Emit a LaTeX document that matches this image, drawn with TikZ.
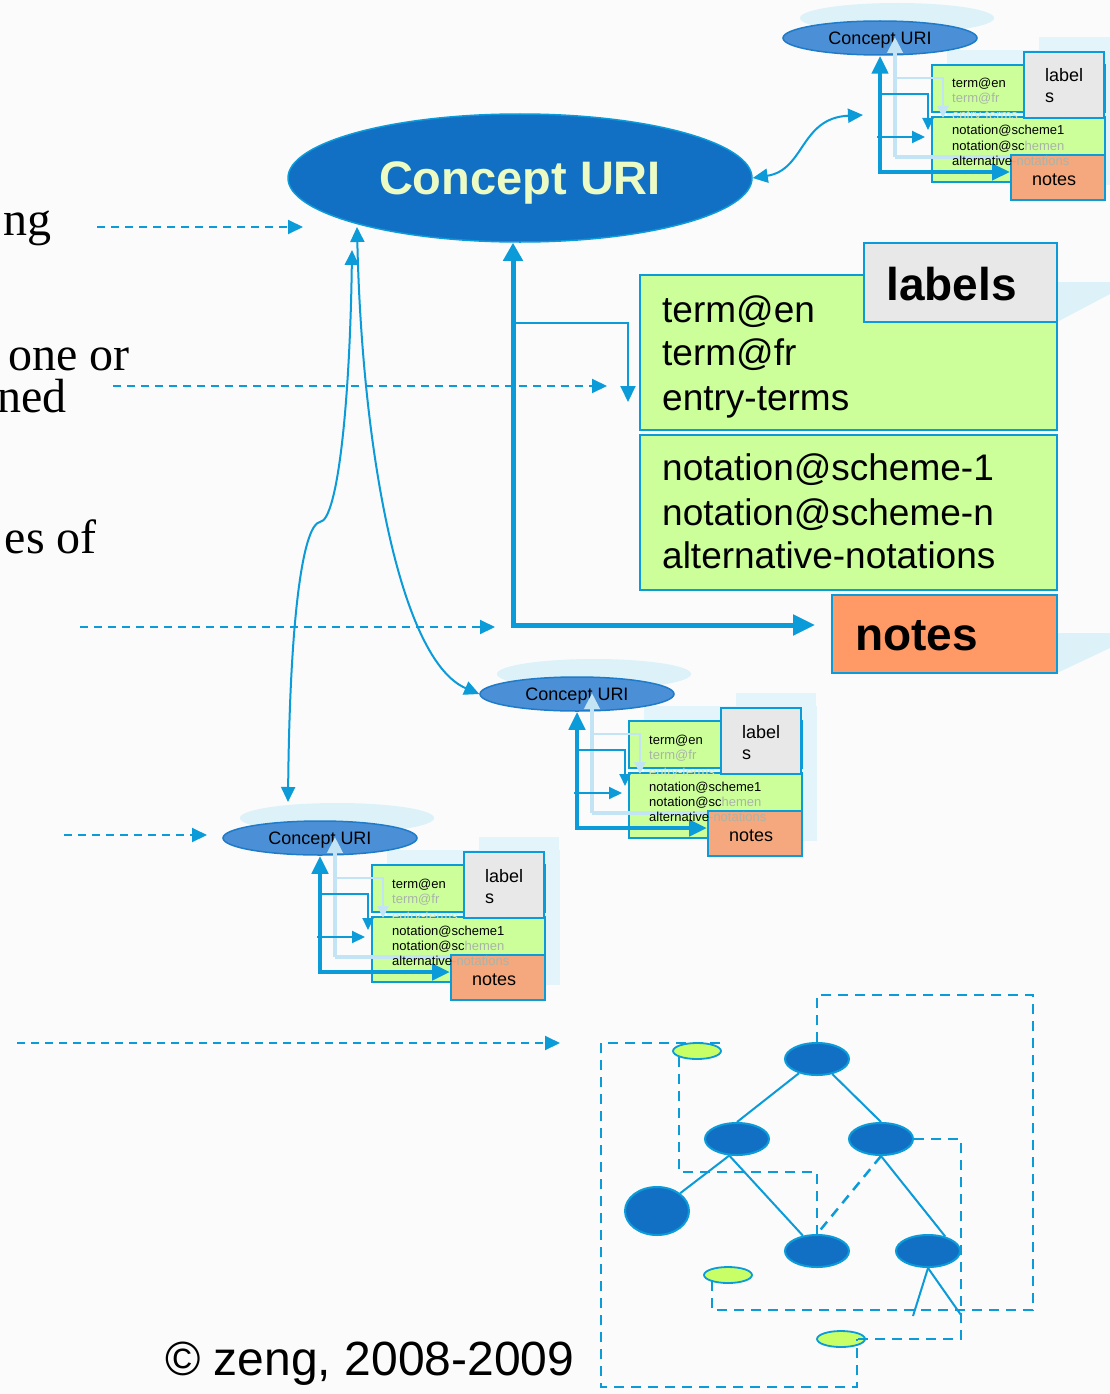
\documentclass[tikz,border=0pt]{standalone}
\usepackage{fontspec}
\setmainfont{Liberation Sans}
\newfontfamily\leftserif{Liberation Serif}
\usetikzlibrary{shapes.geometric,arrows.meta}

\definecolor{linecol}{HTML}{0A9BD8}
\definecolor{bigblue}{HTML}{1170C4}
\definecolor{smallblue}{HTML}{4B90D7}
\definecolor{smallrim}{HTML}{1E7BC9}
\definecolor{boxgreen}{HTML}{CCFF99}
\definecolor{labgray}{HTML}{E8E8E8}
\definecolor{notebig}{HTML}{FF9966}
\definecolor{notesmall}{HTML}{F5A77E}
\definecolor{halo}{HTML}{DDF2F8}
\definecolor{ghostfill}{HTML}{E3F4FA}
\definecolor{ghostline}{HTML}{C2E4F4}
\definecolor{treelime}{HTML}{C8FF66}
\definecolor{bigtext}{HTML}{ECFAC4}
\definecolor{fadeA}{HTML}{A9B4A9}
\definecolor{fadeB}{HTML}{D3EBB6}
\definecolor{paper}{HTML}{FBFBFB}

\tikzset{
  conn/.style={draw=linecol, line width=2pt},
  thickconn/.style={draw=linecol, line width=5pt},
  sthick/.style={draw=linecol, line width=4.5pt},
  dasharrow/.style={draw=linecol, line width=2pt, dash pattern=on 8pt off 6pt,
    -{Triangle[length=15pt,width=14pt]}},
  ghostthick/.style={draw=ghostline, line width=4.5pt},
  ghostthin/.style={draw=ghostline, line width=2pt},
  bigell/.style={ellipse, fill=bigblue, draw=linecol, line width=1.5pt,
    minimum width=464pt, minimum height=128pt, inner sep=0pt, text depth=0pt,
    text=bigtext, font=\fontsize{47}{56}\selectfont\bfseries},
  smallell/.style={ellipse, fill=smallblue, draw=smallrim, line width=1.5pt,
    minimum width=194pt, minimum height=34pt, inner sep=0pt, text depth=0pt,
    font=\fontsize{18}{21}\selectfont},
  haloell/.style={ellipse, fill=halo, minimum width=194pt, minimum height=30pt, inner sep=0pt},
  greenbox/.style={rectangle, fill=boxgreen, draw=linecol, line width=2pt,
    anchor=north west, inner sep=0pt, outer sep=0pt},
  labbox/.style={rectangle, fill=labgray, draw=linecol, line width=2pt,
    anchor=north west, inner sep=0pt, outer sep=0pt},
  bignote/.style={rectangle, fill=notebig, draw=linecol, line width=2pt,
    anchor=north west, inner sep=0pt, outer sep=0pt},
  smallnote/.style={rectangle, fill=notesmall, draw=linecol, line width=2pt,
    anchor=north west, inner sep=0pt, outer sep=0pt},
  txtS/.style={anchor=base west, inner sep=0pt, font=\fontsize{13}{15}\selectfont},
  txtM/.style={anchor=base west, inner sep=0pt, font=\fontsize{18}{21}\selectfont},
  txtB/.style={anchor=base west, inner sep=0pt, font=\fontsize{37}{44}\selectfont},
  txtH/.style={anchor=base west, inner sep=0pt, font=\fontsize{46}{54}\selectfont\bfseries},
  sidetxt/.style={anchor=base east, inner sep=0pt, font=\leftserif\fontsize{48}{56}\selectfont},
  treenode/.style={ellipse, fill=bigblue, draw=linecol, line width=2pt,
    minimum width=64pt, minimum height=32pt, inner sep=0pt},
  limenode/.style={ellipse, fill=treelime, draw=linecol, line width=1.8pt,
    minimum width=48pt, minimum height=16pt, inner sep=0pt},
  treeedge/.style={draw=linecol, line width=2pt},
  treedash/.style={draw=linecol, line width=2.5pt, dash pattern=on 10pt off 7pt},
}

% one small concept record: ellipse, label boxes, notes box and their links
\newcommand\smallconcept[3]{%
  \begin{scope}[shift={(#1,#2)}]
    \node[haloell] (#3h) at (17,-20) {};
    \fill[ghostfill] (67,12) rectangle (240,129);
    \fill[ghostfill] (159,-1) rectangle (239,65);
    \fill[ghostfill] (146,102) rectangle (240,147);
    \node[smallell] (#3e) at (0,0) {Concept URI};
    \node[greenbox, minimum width=173pt, minimum height=47pt] (#3ga) at (52,27) {};
    \node[greenbox, minimum width=173pt, minimum height=65pt] (#3gb) at (52,79) {};
    \node[txtS] (#3ta) at (72,50) {term@en};
    \node[txtS, text=fadeA] (#3tb) at (72,65) {term@fr};
    \node[txtS, text=fadeB] (#3tc) at (72,82) {entry-terms};
    \node[txtS] (#3td) at (72,97) {notation@scheme1};
    \node[txtS] (#3te) at (72,112) {notation@sc\textcolor{fadeA}{hemen}};
    % pale shadow copy of the links
    \coordinate (#3q1) at (15,119);
    \coordinate (#3q2) at (15,-1);
    \coordinate (#3q3) at (131,119);
    \coordinate (#3q4) at (15,40);
    \coordinate (#3q5) at (63,40);
    \coordinate (#3q6) at (63,80);
    \draw[ghostthick, -{Triangle[length=16pt,width=15pt]}] (#3q1) -- (#3q2);
    \draw[ghostthick] (#3q1) -- (#3q3);
    \draw[ghostthin, -{Triangle[length=12pt,width=11pt]}] (#3q4) -- (#3q5) -- (#3q6);
    % labels and notes boxes
    \node[labbox, minimum width=80pt, minimum height=66pt] (#3lb) at (144,14) {};
    \node[txtM] (#3la) at (165,44) {label};
    \node[txtM] (#3ls) at (165,65) {s};
    \node[smallnote, minimum width=94pt, minimum height=45pt] (#3nb) at (131,117) {};
    \node[txtM] (#3nt) at (152,147) {notes};
    % links
    \coordinate (#3k) at (0,134);
    \coordinate (#3kn) at (130,134);
    \coordinate (#3ja) at (0,56);
    \coordinate (#3jb) at (48,56);
    \coordinate (#3jc) at (48,92);
    \coordinate (#3ia) at (-3,99);
    \coordinate (#3ib) at (45,99);
    \draw[sthick, {Triangle[length=18pt,width=16pt]}-{Triangle[length=18pt,width=16pt]}]
      (#3e.south) -- (#3k) -- (#3kn);
    \draw[conn, -{Triangle[length=12pt,width=11pt]}] (#3ja) -- (#3jb) -- (#3jc);
    \draw[conn, -{Triangle[length=13pt,width=12pt]}] (#3ia) -- (#3ib);
    \node[txtS] (#3tf) at (72,127) {alternative\textcolor{fadeA}{-notations}};
  \end{scope}}

\begin{document}
\begin{tikzpicture}[x=1pt,y=-1pt]
  \useasboundingbox (0,0) rectangle (1110,1394);
  \clip (0,0) rectangle (1110,1394);
  \fill[paper] (0,0) rectangle (1110,1394);

  % pale wedges at the right edge
  \fill[halo] (1057,282) -- (1110,282) -- (1110,294) -- (1057,322) -- cycle;
  \fill[halo] (1057,633) -- (1110,633) -- (1110,648) -- (1057,673) -- cycle;

  % side text
  \node[sidetxt] (s1) at (52,235) {ng};
  \node[sidetxt] (s2) at (130,370) {one or};
  \node[sidetxt] (s3) at (67,412) {ned};
  \node[sidetxt] (s4) at (97,553) {es of};

  % small concept records
  \smallconcept{880}{38}{t}
  \smallconcept{577}{694}{m}
  \smallconcept{320}{838}{b}

  % main concept
  \node[bigell] (big) at (520,178) {Concept URI};

  \node[greenbox, minimum width=417pt, minimum height=155pt] (g1) at (640,275) {};
  \node[greenbox, minimum width=417pt, minimum height=155pt] (g2) at (640,435) {};
  \node[labbox, minimum width=193pt, minimum height=79pt] (lb) at (864,243) {};
  \node[bignote, minimum width=225pt, minimum height=78pt] (nb) at (832,595) {};

  \node[txtH] (lbt) at (886,300) {labels};
  \node[txtH] (nbt) at (855,650) {notes};
  \node[txtB] (t1) at (662,322) {term@en};
  \node[txtB] (t2) at (662,365) {term@fr};
  \node[txtB] (t3) at (662,410) {entry-terms};
  \node[txtB] (t4) at (662,480) {notation@scheme-1};
  \node[txtB] (t5) at (662,525) {notation@scheme-n};
  \node[txtB] (t6) at (662,568) {alternative-notations};

  % links of the main concept
  \coordinate (bk) at (513,625);
  \coordinate (bn) at (815,625);
  \draw[thickconn, {Triangle[length=18pt,width=19pt]}-{Triangle[length=22pt,width=20pt]}]
    (bk |- big.south) -- (bk) -- (bn);
  \coordinate (ba) at (513,323);
  \coordinate (bb) at (628,323);
  \coordinate (bc) at (628,402);
  \draw[conn, -{Triangle[length=16pt,width=15pt]}] (ba) -- (bb) -- (bc);

  % curved links between concepts
  \coordinate (trk) at (863,115);
  \draw[conn, {Triangle[length=15pt,width=14pt]}-{Triangle[length=15pt,width=14pt]}]
    (big.east) .. controls (805,170) and (800,118) .. (trk);
  \coordinate (lt) at (352,250);
  \coordinate (lk) at (320,522);
  \coordinate (lb0) at (288,802);
  \draw[conn, {Triangle[length=15pt,width=14pt]}-{Triangle[length=15pt,width=14pt]}]
    (lt) .. controls (350,400) and (338,520) .. (lk)
         .. controls (305,524) and (290,600) .. (lb0);
  \coordinate (rt) at (357,227);
  \draw[conn, {Triangle[length=15pt,width=14pt]}-{Triangle[length=15pt,width=14pt]}]
    (rt) .. controls (362,450) and (400,660) .. (me.west);

  % dashed pointers from the side text
  \coordinate (d1a) at (97,227);   \coordinate (d1b) at (303,227);
  \coordinate (d2a) at (113,386);  \coordinate (d2b) at (607,386);
  \coordinate (d3a) at (80,627);   \coordinate (d3b) at (495,627);
  \coordinate (d4a) at (64,835);   \coordinate (d4b) at (207,835);
  \coordinate (d5a) at (17,1043);  \coordinate (d5b) at (560,1043);
  \draw[dasharrow] (d1a) -- (d1b);
  \draw[dasharrow] (d2a) -- (d2b);
  \draw[dasharrow] (d3a) -- (d3b);
  \draw[dasharrow] (d4a) -- (d4b);
  \draw[dasharrow] (d5a) -- (d5b);

  % concept tree
  \node[treenode] (r) at (817,1059) {};
  \node[treenode] (l) at (737,1139) {};
  \node[treenode] (rc) at (881,1139) {};
  \node[treenode, minimum height=48pt] (ll) at (657,1211) {};
  \node[treenode] (mb) at (817,1251) {};
  \node[treenode] (rb) at (928,1251) {};
  \node[limenode] (y1) at (697,1051) {};
  \node[limenode] (y2) at (728,1275) {};
  \node[limenode] (y3) at (841,1339) {};

  \draw[treeedge] (r) -- (l.north);
  \draw[treeedge] (r) -- (rc.north);
  \draw[treeedge] (l.-115) -- (ll);
  \draw[treeedge] (l.-115) -- (mb);
  \draw[treeedge] (rc.south) -- (rb.40);
  \coordinate (rb1) at (913,1316);
  \coordinate (rb2) at (961,1315);
  \draw[treeedge] (rb.south) -- (rb1);
  \draw[treeedge] (rb.south) -- (rb2);
  \draw[treedash] (rc.south) -- (mb.north);

  \coordinate (pa0) at (712,1281);
  \coordinate (pa1) at (1033,1310);
  \coordinate (pa2) at (817,995);
  \draw[treedash] (pa0) |- (pa1) |- (pa2) -- (r.north);
  \coordinate (pb0) at (720,1043);
  \coordinate (pb1) at (601,1043);
  \coordinate (pb2) at (857,1387);
  \coordinate (pb3) at (857,1339);
  \draw[treedash] (pb0) -- (pb1) |- (pb2) -- (pb3);
  \coordinate (pc0) at (679,1057);
  \coordinate (pc1) at (817,1172);
  \draw[treedash] (pc0) |- (pc1) -- (mb.north);
  \coordinate (pd1) at (961,1139);
  \coordinate (pd2) at (857,1339);
  \draw[treedash] (rc.east) -- (pd1) |- (pd2);

  % copyright line
  \node[anchor=base west, inner sep=0pt, font=\fontsize{48}{56}\selectfont] (copy) at (165,1375)
    {© zeng, 2008-2009};
\end{tikzpicture}
\end{document}
